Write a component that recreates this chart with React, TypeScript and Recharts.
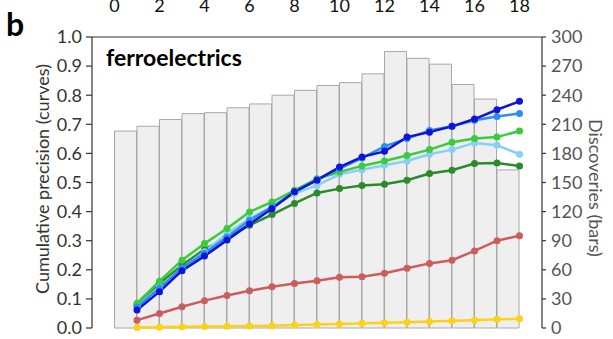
import React from "react";
import { ComposedChart, Bar, Line, XAxis, YAxis } from "recharts";

// x positions of points (iteration index)
const steps = [0, 1, 2, 3, 4, 5, 6, 7, 8, 9, 10, 11, 12, 13, 14, 15, 16, 17, 18];
const xTicks = [0, 2, 4, 6, 8, 10, 12, 14, 16, 18];
const precisionTicks = [0, 0.1, 0.2, 0.3, 0.4, 0.5, 0.6, 0.7, 0.8, 0.9, 1.0];
const discoveryTicks = [0, 30, 60, 90, 120, 150, 180, 210, 240, 270, 300];

// discoveries per bin (bin i spans i..i+1)
const discoveries = [203, 208, 215, 221, 222, 227, 231, 240, 245, 250, 253, 262, 285, 278, 272, 251, 236, 163];

// cumulative precision at steps 1..18
const darkBlue = [0.062, 0.125, 0.197, 0.247, 0.302, 0.357, 0.41, 0.468, 0.508, 0.553, 0.588, 0.607, 0.656, 0.673, 0.693, 0.718, 0.75, 0.779];
const midBlue = [0.072, 0.137, 0.206, 0.257, 0.313, 0.37, 0.416, 0.468, 0.51, 0.548, 0.584, 0.624, 0.651, 0.679, 0.693, 0.714, 0.727, 0.737];
const limeGreen = [0.085, 0.161, 0.233, 0.29, 0.342, 0.399, 0.433, 0.473, 0.513, 0.536, 0.557, 0.574, 0.593, 0.613, 0.638, 0.651, 0.656, 0.677];
const lightBlue = [0.075, 0.142, 0.205, 0.262, 0.325, 0.376, 0.416, 0.462, 0.49, 0.528, 0.544, 0.559, 0.574, 0.597, 0.613, 0.636, 0.628, 0.597];
const darkGreen = [0.079, 0.153, 0.216, 0.27, 0.311, 0.353, 0.39, 0.428, 0.464, 0.479, 0.49, 0.494, 0.508, 0.531, 0.542, 0.565, 0.567, 0.557];
const red = [0.027, 0.05, 0.073, 0.094, 0.112, 0.128, 0.142, 0.153, 0.162, 0.174, 0.176, 0.188, 0.205, 0.222, 0.233, 0.265, 0.3, 0.317];
const yellow = [0.002, 0.003, 0.004, 0.005, 0.006, 0.007, 0.008, 0.01, 0.012, 0.014, 0.016, 0.018, 0.02, 0.022, 0.025, 0.027, 0.03, 0.032];

const seriesList = [
  { key: "yellow", values: yellow, color: "#fcd216" },
  { key: "red", values: red, color: "#cd5c5c" },
  { key: "darkGreen", values: darkGreen, color: "#2b8a2b" },
  { key: "lightBlue", values: lightBlue, color: "#8acdf6" },
  { key: "limeGreen", values: limeGreen, color: "#3bcc3b" },
  { key: "midBlue", values: midBlue, color: "#2b8ef0" },
  { key: "darkBlue", values: darkBlue, color: "#0f14d6" },
];

const data = steps.map((s) => {
  const row: Record<string, number | undefined> = { x: s };
  row.bars = s < discoveries.length ? discoveries[s] : undefined;
  seriesList.forEach((ser) => {
    row[ser.key] = s >= 1 ? ser.values[s - 1] : undefined;
  });
  return row;
});

const FONT = "Lato, 'Open Sans', sans-serif";

export default function App() {
  return (
    <div style={{ position: "absolute", left: 0, top: 0, width: 613, height: 339 }}>
      <ComposedChart
        width={613}
        height={339}
        data={data}
        margin={{ top: 0, right: 0, bottom: 0, left: 0 }}
        barCategoryGap={0}
        barGap={0}
      >
        <XAxis
          xAxisId="bars"
          dataKey="x"
          type="number"
          domain={[-1.5, 18.5]}
          hide
        />
        <XAxis
          xAxisId="main"
          dataKey="x"
          type="number"
          domain={[-1, 19]}
          ticks={xTicks}
          tick={false}
          tickSize={5}
          height={11}
          axisLine={{ stroke: "#333", strokeWidth: 1.2 }}
          tickLine={{ stroke: "#333", strokeWidth: 1.2 }}
        />
        <XAxis
          xAxisId="top"
          orientation="top"
          dataKey="x"
          type="number"
          domain={[-1, 19]}
          ticks={xTicks}
          tickSize={0}
          tickMargin={25}
          height={37}
          tickLine={false}
          axisLine={{ stroke: "#333", strokeWidth: 1.2 }}
          tick={{ fontSize: 18, fill: "#111", fontFamily: FONT }}
        />
        <YAxis
          yAxisId="p"
          orientation="left"
          type="number"
          domain={[0, 1]}
          ticks={precisionTicks}
          width={92}
          tickSize={6}
          tickMargin={4}
          tickFormatter={(v: number) => v.toFixed(1)}
          axisLine={{ stroke: "#333", strokeWidth: 1.2 }}
          tickLine={{ stroke: "#333", strokeWidth: 1.2 }}
          tick={{ fontSize: 18, fill: "#333", fontFamily: FONT }}
        />
        <YAxis
          yAxisId="d"
          orientation="right"
          type="number"
          domain={[0, 300]}
          ticks={discoveryTicks}
          width={71}
          tickSize={4}
          tickMargin={5}
          axisLine={{ stroke: "#333", strokeWidth: 1.2 }}
          tickLine={{ stroke: "#333", strokeWidth: 1.2 }}
          tick={{ fontSize: 18, fill: "#555", fontFamily: FONT }}
        />
        <Bar
          dataKey="bars"
          xAxisId="bars"
          yAxisId="d"
          fill="#efefef"
          stroke="#a8a8a8"
          strokeWidth={1}
          isAnimationActive={false}
        />
        {seriesList.map((ser) => (
          <Line
            key={ser.key}
            dataKey={ser.key}
            xAxisId="main"
            yAxisId="p"
            stroke={ser.color}
            strokeWidth={2.5}
            dot={{ r: 3.5, fill: ser.color, stroke: ser.color, strokeWidth: 0 }}
            activeDot={false}
            isAnimationActive={false}
          />
        ))}
      </ComposedChart>
      <svg
        width={613}
        height={339}
        style={{ position: "absolute", left: 0, top: 0, pointerEvents: "none" }}
      >
        <text x={6} y={36} fontSize={32} fontWeight={700} fontFamily={FONT} fill="#000">
          b
        </text>
        <text x={106} y={66} fontSize={23} fontWeight={700} fontFamily={FONT} fill="#000">
          ferroelectrics
        </text>
        <text
          x={49}
          y={179}
          fontSize={18}
          fontFamily={FONT}
          fill="#333"
          textAnchor="middle"
          transform="rotate(-90 49 179)"
        >
          Cumulative precision (curves)
        </text>
        <text
          x={589}
          y={188}
          fontSize={18}
          fontFamily={FONT}
          fill="#555"
          textAnchor="middle"
          transform="rotate(90 589 188)"
        >
          Discoveries (bars)
        </text>
      </svg>
    </div>
  );
}
